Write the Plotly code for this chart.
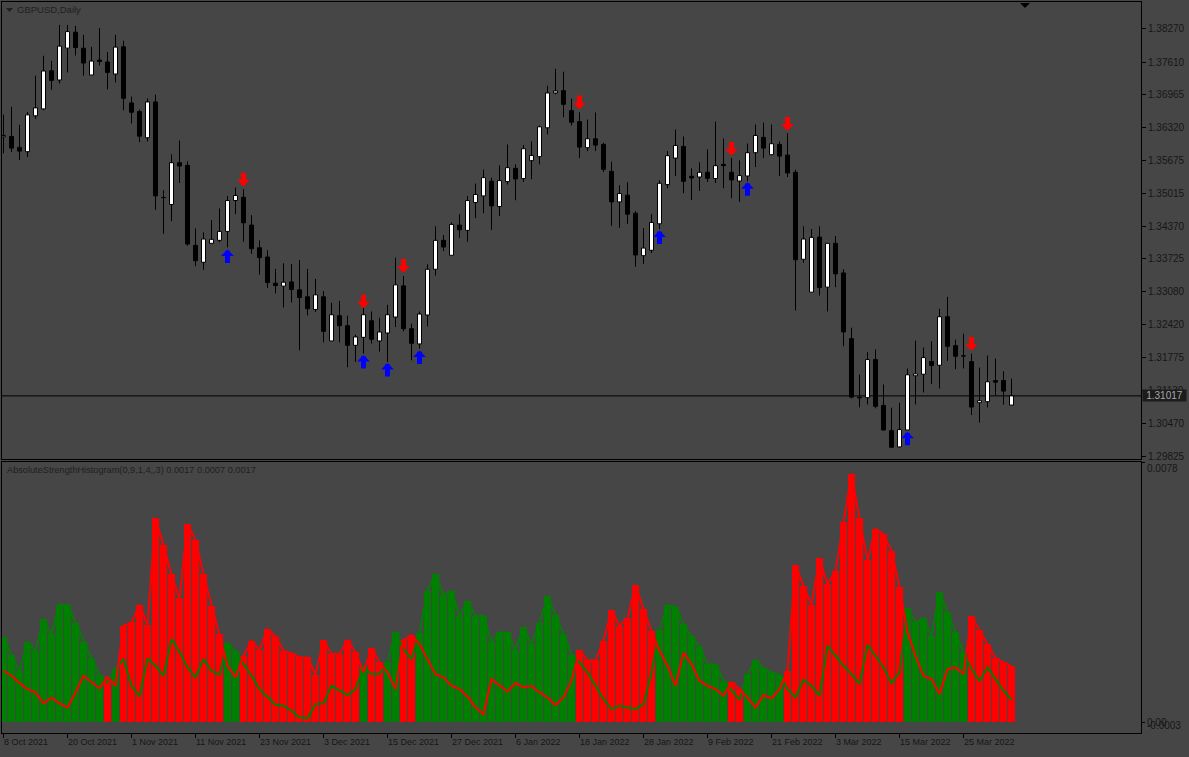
import plotly.graph_objects as go

W, H = 1189, 757

# ---------------- data ----------------
tick_labels = ["8 Oct 2021", "20 Oct 2021", "1 Nov 2021", "11 Nov 2021", "23 Nov 2021",
               "3 Dec 2021", "15 Dec 2021", "27 Dec 2021", "6 Jan 2022", "18 Jan 2022",
               "28 Jan 2022", "9 Feb 2022", "21 Feb 2022", "3 Mar 2022", "15 Mar 2022",
               "25 Mar 2022"]
tick_bars = [0, 8, 16, 24, 32, 40, 48, 56, 64, 72, 80, 88, 96, 104, 112, 120]

opens = [1.36138, 1.36144, 1.35928, 1.35843, 1.36552, 1.36689, 1.37443, 1.37260, 1.37890, 1.38205,
         1.37890, 1.37359, 1.37654, 1.37615, 1.37378, 1.37916, 1.36808, 1.36636, 1.36119, 1.36827,
         1.34938, 1.34800, 1.35626, 1.35573, 1.33993, 1.33658, 1.34032, 1.34091, 1.34268, 1.34878,
         1.34943, 1.34392, 1.33945, 1.33762, 1.33245, 1.33186, 1.33270, 1.33113, 1.32975, 1.32725,
         1.32975, 1.32103, 1.32601, 1.32404, 1.32016, 1.32174, 1.32502, 1.32103, 1.32260, 1.32575,
         1.33191, 1.32345, 1.32044, 1.32615, 1.33520, 1.34091, 1.33796, 1.34392, 1.34288, 1.34839,
         1.34969, 1.35258, 1.34760, 1.35252, 1.35514, 1.35312, 1.35666, 1.35745, 1.36315, 1.37004,
         1.37050, 1.36656, 1.36439, 1.35922, 1.36099, 1.35987, 1.35455, 1.34851, 1.34983, 1.34628,
         1.33788, 1.33894, 1.34418, 1.35193, 1.35717, 1.35947, 1.35357, 1.35343, 1.35436, 1.35312,
         1.35593, 1.35436, 1.35264, 1.35363, 1.35823, 1.36125, 1.35784, 1.35987, 1.35776, 1.35436,
         1.33717, 1.33067, 1.34156, 1.33166, 1.34032, 1.33447, 1.32148, 1.30993, 1.30981, 1.31735,
         1.30829, 1.30331, 1.30008, 1.30343, 1.31414, 1.31445, 1.31695, 1.31623, 1.32581, 1.32010,
         1.31808, 1.31695, 1.30882, 1.30902, 1.31321, 1.31321, 1.30835]
highs = [1.36577, 1.36729, 1.36375, 1.36630, 1.37345, 1.37739, 1.37640, 1.38349, 1.38349, 1.38329,
         1.38152, 1.37916, 1.38284, 1.37812, 1.38152, 1.38034, 1.36932, 1.36676, 1.36898, 1.36971,
         1.35081, 1.35790, 1.36065, 1.35652, 1.34327, 1.34249, 1.34491, 1.34721, 1.34969, 1.35134,
         1.35101, 1.34589, 1.34091, 1.33894, 1.33526, 1.33638, 1.33625, 1.33703, 1.33526, 1.33329,
         1.33087, 1.32857, 1.32896, 1.32601, 1.32227, 1.32758, 1.32686, 1.32562, 1.32817, 1.33749,
         1.33388, 1.32443, 1.32686, 1.33619, 1.34367, 1.34195, 1.34445, 1.34609, 1.34969, 1.35213,
         1.35489, 1.35331, 1.35573, 1.35987, 1.35593, 1.35973, 1.36046, 1.36361, 1.37148, 1.37483,
         1.37424, 1.36892, 1.36623, 1.36479, 1.36617, 1.36020, 1.35646, 1.35180, 1.35239, 1.34668,
         1.34333, 1.34609, 1.35278, 1.35855, 1.36282, 1.36144, 1.35514, 1.35632, 1.35888, 1.36439,
         1.36105, 1.35717, 1.35672, 1.36006, 1.36380, 1.36420, 1.36380, 1.36046, 1.36209, 1.35489,
         1.34367, 1.34314, 1.34367, 1.34032, 1.34176, 1.33520, 1.32365, 1.31439, 1.31886, 1.31932,
         1.31243, 1.30784, 1.30882, 1.31558, 1.32109, 1.31971, 1.32095, 1.32739, 1.32975, 1.32128,
         1.32247, 1.31853, 1.31577, 1.31814, 1.31754, 1.31504, 1.31361]
lows = [1.35810, 1.35835, 1.35678, 1.35737, 1.36493, 1.36662, 1.37069, 1.37193, 1.37410, 1.37745,
        1.37345, 1.37359, 1.37548, 1.37075, 1.37213, 1.36662, 1.36400, 1.36032, 1.36046, 1.34693,
        1.34221, 1.34471, 1.35225, 1.33985, 1.33579, 1.33512, 1.34032, 1.34052, 1.33953, 1.34609,
        1.34064, 1.33821, 1.33414, 1.33146, 1.33040, 1.32764, 1.32863, 1.31918, 1.32607, 1.32674,
        1.32075, 1.32103, 1.32075, 1.31583, 1.31689, 1.31853, 1.32050, 1.31892, 1.31689, 1.32378,
        1.32292, 1.31721, 1.31951, 1.32390, 1.33394, 1.33880, 1.33796, 1.34142, 1.34064, 1.34530,
        1.34628, 1.34300, 1.34569, 1.35193, 1.34884, 1.35245, 1.35298, 1.35593, 1.36184, 1.36977,
        1.36524, 1.36361, 1.35717, 1.35855, 1.35855, 1.35441, 1.34378, 1.34339, 1.34418, 1.33571,
        1.33625, 1.33841, 1.34314, 1.35121, 1.35363, 1.35022, 1.34890, 1.35067, 1.35245, 1.35225,
        1.35121, 1.34924, 1.34851, 1.35258, 1.35540, 1.35717, 1.35776, 1.35363, 1.35343, 1.32705,
        1.33650, 1.33067, 1.33001, 1.32686, 1.33166, 1.31997, 1.30967, 1.30790, 1.30849, 1.30770,
        1.30331, 1.29989, 1.29997, 1.30343, 1.30849, 1.31085, 1.31249, 1.31164, 1.31709, 1.31544,
        1.31558, 1.30638, 1.30489, 1.30790, 1.31032, 1.30843, 1.30835]
closes = [1.36164, 1.35914, 1.35855, 1.36571, 1.36709, 1.37438, 1.37252, 1.37930, 1.38217, 1.37902,
          1.37595, 1.37634, 1.37626, 1.37410, 1.37910, 1.36898, 1.36623, 1.36150, 1.36827, 1.34969,
          1.34935, 1.35626, 1.35560, 1.34018, 1.33689, 1.34117, 1.34111, 1.34268, 1.34878, 1.34977,
          1.34438, 1.33926, 1.33749, 1.33256, 1.33197, 1.33264, 1.33119, 1.32961, 1.32739, 1.33014,
          1.32292, 1.32621, 1.32404, 1.32016, 1.32182, 1.32621, 1.32134, 1.32280, 1.32621, 1.33211,
          1.32345, 1.32056, 1.32634, 1.33520, 1.34091, 1.33959, 1.34406, 1.34300, 1.34878, 1.34997,
          1.35331, 1.34772, 1.35272, 1.35528, 1.35304, 1.35902, 1.35770, 1.36335, 1.37004, 1.37044,
          1.36780, 1.36426, 1.35934, 1.36099, 1.35973, 1.35495, 1.34851, 1.35016, 1.34609, 1.33802,
          1.33939, 1.34445, 1.35219, 1.35764, 1.35967, 1.35258, 1.35323, 1.35436, 1.35317, 1.35567,
          1.35567, 1.35284, 1.35371, 1.35823, 1.36164, 1.35914, 1.36001, 1.35756, 1.35422, 1.33709,
          1.34117, 1.34150, 1.33158, 1.34032, 1.33428, 1.32280, 1.30993, 1.30977, 1.31735, 1.30810,
          1.30343, 1.30002, 1.30351, 1.31434, 1.31453, 1.31774, 1.31617, 1.32581, 1.31997, 1.31800,
          1.31805, 1.30796, 1.30922, 1.31296, 1.31288, 1.31111, 1.31017]

# Absolute Strength: bulls (green) and bears (red)
bulls = [0.00257, 0.00202, 0.00153, 0.00241, 0.00214, 0.00310, 0.00265, 0.00353, 0.00353, 0.00299,
         0.00241, 0.00192, 0.00142, 0.00120, 0.00160, 0.00190, 0.00110, 0.00078, 0.00192, 0.00170,
         0.00140, 0.00250, 0.00212, 0.00165, 0.00135, 0.00190, 0.00155, 0.00142, 0.00239, 0.00214,
         0.00175, 0.00140, 0.00100, 0.00078, 0.00053, 0.00050, 0.00035, 0.00015, 0.00013, 0.00055,
         0.00057, 0.00110, 0.00095, 0.00082, 0.00100, 0.00165, 0.00145, 0.00145, 0.00180, 0.00270,
         0.00220, 0.00190, 0.00268, 0.00395, 0.00445, 0.00382, 0.00394, 0.00320, 0.00364, 0.00319,
         0.00319, 0.00240, 0.00270, 0.00270, 0.00218, 0.00285, 0.00235, 0.00297, 0.00378, 0.00322,
         0.00265, 0.00203, 0.00180, 0.00150, 0.00110, 0.00070, 0.00040, 0.00050, 0.00045, 0.00040,
         0.00055, 0.00150, 0.00276, 0.00352, 0.00347, 0.00296, 0.00258, 0.00227, 0.00175, 0.00173,
         0.00125, 0.00098, 0.00068, 0.00144, 0.00186, 0.00162, 0.00150, 0.00142, 0.00100, 0.00075,
         0.00128, 0.00110, 0.00080, 0.00230, 0.00200, 0.00170, 0.00145, 0.00115, 0.00233, 0.00200,
         0.00165, 0.00118, 0.00150, 0.00342, 0.00300, 0.00312, 0.00260, 0.00390, 0.00330, 0.00270,
         0.00210, 0.00160, 0.00125, 0.00165, 0.00130, 0.00095, 0.00068]
bears = [0.00155, 0.00140, 0.00118, 0.00100, 0.00090, 0.00057, 0.00074, 0.00057, 0.00045, 0.00090,
         0.00140, 0.00122, 0.00102, 0.00136, 0.00110, 0.00290, 0.00300, 0.00353, 0.00293, 0.00612,
         0.00532, 0.00444, 0.00372, 0.00595, 0.00548, 0.00444, 0.00350, 0.00265, 0.00170, 0.00135,
         0.00200, 0.00244, 0.00218, 0.00280, 0.00258, 0.00215, 0.00207, 0.00195, 0.00195, 0.00143,
         0.00247, 0.00205, 0.00205, 0.00247, 0.00210, 0.00150, 0.00223, 0.00180, 0.00150, 0.00100,
         0.00247, 0.00262, 0.00235, 0.00190, 0.00145, 0.00135, 0.00110, 0.00100, 0.00078, 0.00045,
         0.00025, 0.00130, 0.00112, 0.00093, 0.00118, 0.00105, 0.00110, 0.00090, 0.00075, 0.00052,
         0.00075, 0.00125, 0.00216, 0.00186, 0.00186, 0.00245, 0.00336, 0.00290, 0.00312, 0.00412,
         0.00340, 0.00274, 0.00215, 0.00170, 0.00110, 0.00210, 0.00175, 0.00125, 0.00110, 0.00100,
         0.00080, 0.00120, 0.00100, 0.00075, 0.00045, 0.00082, 0.00072, 0.00100, 0.00155, 0.00472,
         0.00410, 0.00353, 0.00492, 0.00415, 0.00454, 0.00600, 0.00745, 0.00612, 0.00486, 0.00580,
         0.00565, 0.00515, 0.00406, 0.00270, 0.00200, 0.00140, 0.00130, 0.00085, 0.00160, 0.00165,
         0.00145, 0.00318, 0.00277, 0.00234, 0.00193, 0.00180, 0.00168]

sell_bars = [30, 45, 50, 72, 91, 98, 121]
sell_levels = [1.35298, 1.32886, 1.33595, 1.36823, 1.35908, 1.36400, 1.32050]
buy_bars = [28, 45, 48, 52, 82, 93, 113]
buy_levels = [1.33772, 1.31686, 1.31528, 1.31774, 1.34146, 1.35101, 1.30170]

price_ticks = [1.38270, 1.37610, 1.36965, 1.36320, 1.35675, 1.35015, 1.34370,
               1.33725, 1.33080, 1.32420, 1.31775, 1.31130, 1.30470, 1.29825]

# ---------------- layout geometry ----------------
def fx(p):
    return p / W


def fy(p):
    return 1 - p / H


PLOT_L, PLOT_R = 2, 1141
MAIN_TOP, MAIN_BOT = 2, 461
SUB_TOP, SUB_BOT = 464, 736
SLOT = 8.0
FIRST = 3.5
x_lo = -(FIRST - PLOT_L) / SLOT
x_hi = x_lo + (PLOT_R - PLOT_L) / SLOT
price_range = [1.29766, 1.38802]
ind_range = [-0.00032, 0.00781]

BG = "#464646"
TXT = "#161616"
FONT = "Liberation Sans, Arial, sans-serif"
GREEN = "#008000"
RED = "#ff0000"
BLUE = "#0000ff"

n = len(opens)
idx = list(range(n))

fig = go.Figure()

# wicks (split so they never cross the body)
wx, wy = [], []
for i in idx:
    top = max(opens[i], closes[i])
    bot = min(opens[i], closes[i])
    wx += [i, i, None, i, i, None]
    wy += [highs[i], top, None, bot, lows[i], None]
fig.add_trace(go.Scatter(x=wx, y=wy, mode="lines", line=dict(color="#000000", width=1),
                         xaxis="x", yaxis="y", hoverinfo="skip", showlegend=False))

# bodies
fig.add_trace(go.Bar(
    x=idx,
    y=[abs(c - o) for o, c in zip(opens, closes)],
    base=[min(o, c) for o, c in zip(opens, closes)],
    width=0.5,
    marker=dict(color=["#ffffff" if c > o else "#000000" for o, c in zip(opens, closes)],
                line=dict(color="#000000", width=1)),
    xaxis="x", yaxis="y", hoverinfo="skip", showlegend=False))

# histogram
fig.add_trace(go.Bar(
    x=idx,
    y=[max(b, r) for b, r in zip(bulls, bears)],
    width=0.875,
    marker=dict(color=[GREEN if b > r else RED for b, r in zip(bulls, bears)], line=dict(width=0)),
    xaxis="x2", yaxis="y2", hoverinfo="skip", showlegend=False))
fig.add_trace(go.Scatter(x=idx, y=bulls, mode="lines", line=dict(color=GREEN, width=2),
                         xaxis="x2", yaxis="y2", hoverinfo="skip", showlegend=False))
fig.add_trace(go.Scatter(x=idx, y=bears, mode="lines", line=dict(color=RED, width=2),
                         xaxis="x2", yaxis="y2", hoverinfo="skip", showlegend=False))

annotations = []
# signal arrows
for b, lv in zip(sell_bars, sell_levels):
    annotations.append(dict(x=b, y=lv, xref="x", yref="y", text="", showarrow=True,
                            arrowhead=1, arrowsize=0.43, arrowwidth=5, arrowcolor=RED,
                            ax=0, ay=-15, axref="pixel", ayref="pixel", yshift=-7, standoff=0))
for b, lv in zip(buy_bars, buy_levels):
    annotations.append(dict(x=b, y=lv, xref="x", yref="y", text="", showarrow=True,
                            arrowhead=1, arrowsize=0.43, arrowwidth=5, arrowcolor=BLUE,
                            ax=0, ay=15, axref="pixel", ayref="pixel", yshift=7, standoff=0))

# date labels
for tb, tl in zip(tick_bars, tick_labels):
    annotations.append(dict(x=tb, y=fy(745), xref="x2", yref="paper", text=tl, showarrow=False,
                            xanchor="left", yanchor="middle", xshift=-2,
                            font=dict(family=FONT, size=9, color=TXT)))

# titles
annotations.append(dict(x=fx(15), y=fy(10), xref="paper", yref="paper", text="GBPUSD,Daily",
                        showarrow=False, xanchor="left", yanchor="middle",
                        font=dict(family=FONT, size=9.5, color="#202020")))
annotations.append(dict(x=fx(5), y=fy(472), xref="paper", yref="paper",
                        text="AbsoluteStrengthHistogram(0,9,1,4,,3) "
                             f"{bears[-1]:.4f} {bulls[-1]:.4f} {bears[-1]:.4f}",
                        showarrow=False, xanchor="left", yanchor="middle",
                        font=dict(family=FONT, size=9.2, color="#202020")))

# current price box
annotations.append(dict(x=fx(1142), y=closes[-1], xref="paper", yref="y", text=f"{closes[-1]:.5f}",
                        showarrow=False, xanchor="left", yanchor="middle", bgcolor="#1c1c1c",
                        borderpad=0, width=43, height=11,
                        font=dict(family=FONT, size=10, color="#a8a8a8")))

# indicator scale labels
annotations.append(dict(x=fx(1145), y=fy(470), xref="paper", yref="paper", text="0.0078",
                        showarrow=False, xanchor="left", yanchor="middle",
                        font=dict(family=FONT, size=10, color=TXT)))
annotations.append(dict(x=fx(1145), y=fy(725), xref="paper", yref="paper", text="0.00",
                        showarrow=False, xanchor="left", yanchor="middle",
                        font=dict(family=FONT, size=10, color=TXT)))
annotations.append(dict(x=fx(1145), y=fy(728), xref="paper", yref="paper", text="-0.0003",
                        showarrow=False, xanchor="left", yanchor="middle",
                        font=dict(family=FONT, size=10, color=TXT)))

shapes = [
    dict(type="line", xref="x domain", x0=0, x1=1, yref="y", y0=closes[-1], y1=closes[-1],
         line=dict(color="#000000", width=1), layer="below"),
    dict(type="path", xref="paper", yref="paper",
         path=f"M{fx(6)},{fy(8)} L{fx(13)},{fy(8)} L{fx(9.5)},{fy(12)} Z",
         fillcolor="#202020", line=dict(width=0)),
    dict(type="path", xref="paper", yref="paper",
         path=f"M{fx(1020)},{fy(3)} L{fx(1030)},{fy(3)} L{fx(1025)},{fy(8)} Z",
         fillcolor="#000000", line=dict(width=0)),
]

axis_common = dict(showgrid=False, zeroline=False, showline=True, mirror=True,
                   linecolor="#000000", linewidth=1, fixedrange=True)

fig.update_layout(
    width=W, height=H, margin=dict(l=0, r=0, t=0, b=0),
    paper_bgcolor=BG, plot_bgcolor=BG,
    barmode="overlay", bargap=0, hovermode=False, showlegend=False,
    font=dict(family=FONT, size=9, color=TXT),
    xaxis=dict(domain=[fx(PLOT_L), fx(PLOT_R)], range=[x_lo, x_hi], anchor="y",
               showticklabels=False, ticks="", **axis_common),
    yaxis=dict(domain=[fy(MAIN_BOT), fy(MAIN_TOP)], range=price_range, anchor="x",
               side="right", tickvals=price_ticks, ticktext=[f"{t:.5f}" for t in price_ticks],
               ticks="outside", ticklen=4, tickcolor="#000000", tickwidth=1,
               tickfont=dict(family=FONT, size=10, color=TXT), **axis_common),
    xaxis2=dict(domain=[fx(PLOT_L), fx(PLOT_R)], range=[x_lo, x_hi], anchor="y2",
                tickvals=tick_bars, ticks="outside", ticklen=4, tickcolor="#000000",
                showticklabels=False, **axis_common),
    yaxis2=dict(domain=[fy(SUB_BOT), fy(SUB_TOP)], range=ind_range, anchor="x2",
                side="right", tickvals=[0.0078, 0.0], ticks="outside", ticklen=3,
                tickcolor="#000000", showticklabels=False, **axis_common),
    annotations=annotations,
    shapes=shapes,
)

fig.write_html("out.html", config={"displayModeBar": False, "staticPlot": True})
